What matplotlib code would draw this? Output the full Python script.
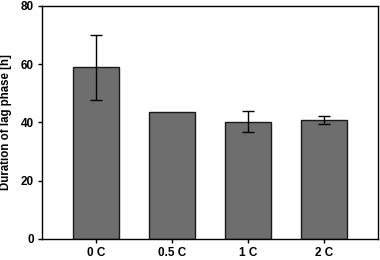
import matplotlib
matplotlib.use("Agg")
import matplotlib.pyplot as plt

labels = ["0 C", "0.5 C", "1 C", "2 C"]
lag = [58.9, 43.5, 40.3, 40.9]
err_lo = [11.1, 0, 3.6, 1.4]
err_hi = [11.1, 0, 3.8, 1.3]

plt.rcParams['font.family'] = ['Liberation Sans', 'DejaVu Sans']

fig = plt.figure(figsize=(3.8, 2.6), dpi=100)
ax = fig.add_axes([0.1105, 0.081, 0.8845, 0.896])

x = range(len(labels))
ax.bar(x, lag, width=0.6, color='#6e6e6e', edgecolor='#1a1a1a', linewidth=1.0, zorder=2)
idx = [i for i in x if err_hi[i] > 0]
ax.errorbar(idx, [lag[i] for i in idx],
            yerr=[[err_lo[i] for i in idx], [err_hi[i] for i in idx]],
            fmt='none', ecolor='black', elinewidth=1, capsize=4, capthick=1, zorder=3)

ax.set_xlim(-0.71, 3.71)
ax.set_ylim(0, 80)
ax.set_yticks([0, 20, 40, 60, 80])
ax.set_xticks(list(x))
ax.set_xticklabels(labels, fontsize=8.5, fontweight='bold')
for t in ax.get_yticklabels():
    t.set_fontsize(8.5)
    t.set_fontweight('bold')
ax.set_ylabel('Duration of lag phase [h]', fontsize=8.3, fontweight='bold', labelpad=6)
ax.tick_params(direction='out', length=3, width=1, pad=3)
for s in ax.spines.values():
    s.set_linewidth(1)

fig.savefig('out.png', dpi=100)
